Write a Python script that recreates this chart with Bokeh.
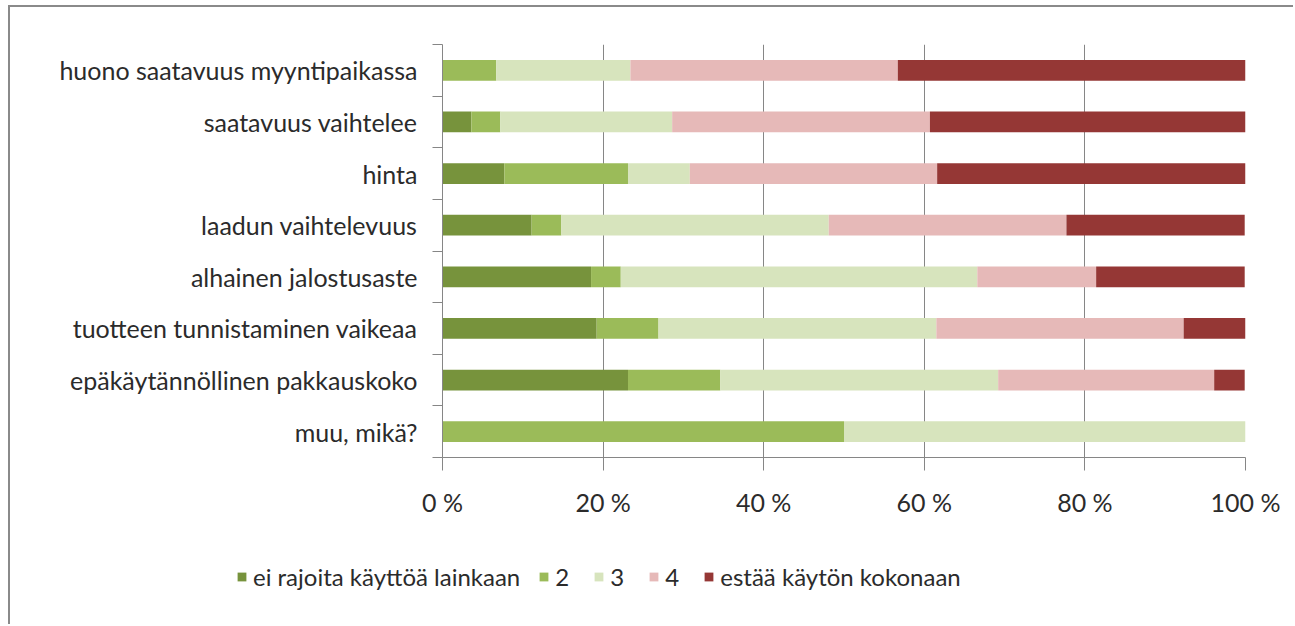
from bokeh.plotting import figure
from bokeh.models import (ColumnDataSource, FixedTicker, PrintfTickFormatter,
                          Legend, LegendItem, Range1d)
from bokeh.embed import file_html
from bokeh.resources import INLINE

categories = [
    "huono saatavuus myyntipaikassa",
    "saatavuus vaihtelee",
    "hinta",
    "laadun vaihtelevuus",
    "alhainen jalostusaste",
    "tuotteen tunnistaminen vaikeaa",
    "epäkäytännöllinen pakkauskoko",
    "muu, mikä?",
]
series_names = ["ei rajoita käyttöä lainkaan", "2", "3", "4", "estää käytön kokonaan"]
s1 = [0.0, 3.6, 7.7, 11.1, 18.5, 19.2, 23.1, 0.0]
s2 = [6.7, 3.6, 15.4, 3.7, 3.7, 7.7, 11.5, 50.0]
s3 = [16.7, 21.4, 7.7, 33.3, 44.4, 34.6, 34.6, 50.0]
s4 = [33.3, 32.1, 30.8, 29.6, 14.8, 30.8, 26.9, 0.0]
s5 = [43.3, 39.3, 38.5, 22.2, 18.5, 7.7, 3.8, 0.0]
x_ticks = [0, 20, 40, 60, 80, 100]
colors = ["#77933C", "#9BBB59", "#D7E4BD", "#E6B9B8", "#953735"]

FONT = "Lato"
FS = "25px"
TXT = "#2b2b2b"
n = len(categories)
ypos = [n - 0.5 - i for i in range(n)]
keys = ["s1", "s2", "s3", "s4", "s5"]
source = ColumnDataSource(dict(y=ypos, cat=categories, s1=s1, s2=s2, s3=s3, s4=s4, s5=s5))

W = 1285
H1, H2 = 540, 79
p = figure(width=W, height=H1, output_backend="svg", toolbar_location=None,
           x_range=Range1d(0, 100), y_range=Range1d(0, n),
           min_border_left=432, min_border_right=50, min_border_top=37,
           min_border_bottom=90)
p.outline_line_color = None
p.background_fill_color = "white"
p.border_fill_color = "white"
p.styles = {"margin-left": "8px", "margin-top": "5px",
            "border-left": "2px solid #8a8a8a", "border-top": "2px solid #8a8a8a"}

renderers = p.hbar_stack(keys, y="y", height=0.4, color=colors, line_color=None, source=source)

grid_color = "#868686"
xa = p.xaxis[0]
xa.ticker = FixedTicker(ticks=x_ticks)
xa.formatter = PrintfTickFormatter(format="%d %%")
xa.axis_line_color = grid_color
xa.major_tick_line_color = grid_color
xa.major_tick_out = 13
xa.major_tick_in = 0
xa.minor_tick_line_color = None
xa.major_label_standoff = 16
xa.major_label_text_font = FONT
xa.major_label_text_font_size = FS
xa.major_label_text_color = TXT

ya = p.yaxis[0]
ya.ticker = FixedTicker(ticks=ypos, minor_ticks=list(range(n + 1)))
ya.major_label_overrides = {y: c for y, c in zip(ypos, categories)}
ya.axis_line_color = grid_color
ya.major_tick_line_color = None
ya.major_tick_out = 0
ya.major_tick_in = 0
ya.minor_tick_line_color = grid_color
ya.minor_tick_out = 10
ya.minor_tick_in = 0
ya.major_label_standoff = 15
ya.major_label_text_font = FONT
ya.major_label_text_font_size = FS
ya.major_label_text_color = TXT

p.xgrid.grid_line_color = grid_color
p.xgrid.ticker = FixedTicker(ticks=x_ticks[1:])
p.ygrid.grid_line_color = None

# legend in its own strip below the chart
q = figure(width=W, height=H2, output_backend="svg", toolbar_location=None,
           x_range=Range1d(0, 1), y_range=Range1d(0, 1),
           min_border=0, x_axis_type=None, y_axis_type=None)
q.outline_line_color = None
q.xgrid.grid_line_color = None
q.ygrid.grid_line_color = None
q.border_fill_color = "white"
q.background_fill_color = "white"
q.styles = {"margin-left": "8px", "border-left": "2px solid #8a8a8a"}
leg_r = [q.rect(x=[-5], y=[-5], width=1, height=1, color=c, line_color=None) for c in colors]

legend = Legend(items=[LegendItem(label=nm, renderers=[r]) for nm, r in zip(series_names, leg_r)],
                orientation="horizontal", location=(226, 33),
                glyph_width=11, glyph_height=11, label_standoff=6, spacing=18,
                padding=0, margin=0, border_line_color=None, background_fill_alpha=0,
                label_text_font=FONT, label_text_font_size="24px", label_text_color=TXT)
q.add_layout(legend, "center")

open("out.html", "w").write(file_html([p, q], INLINE))
